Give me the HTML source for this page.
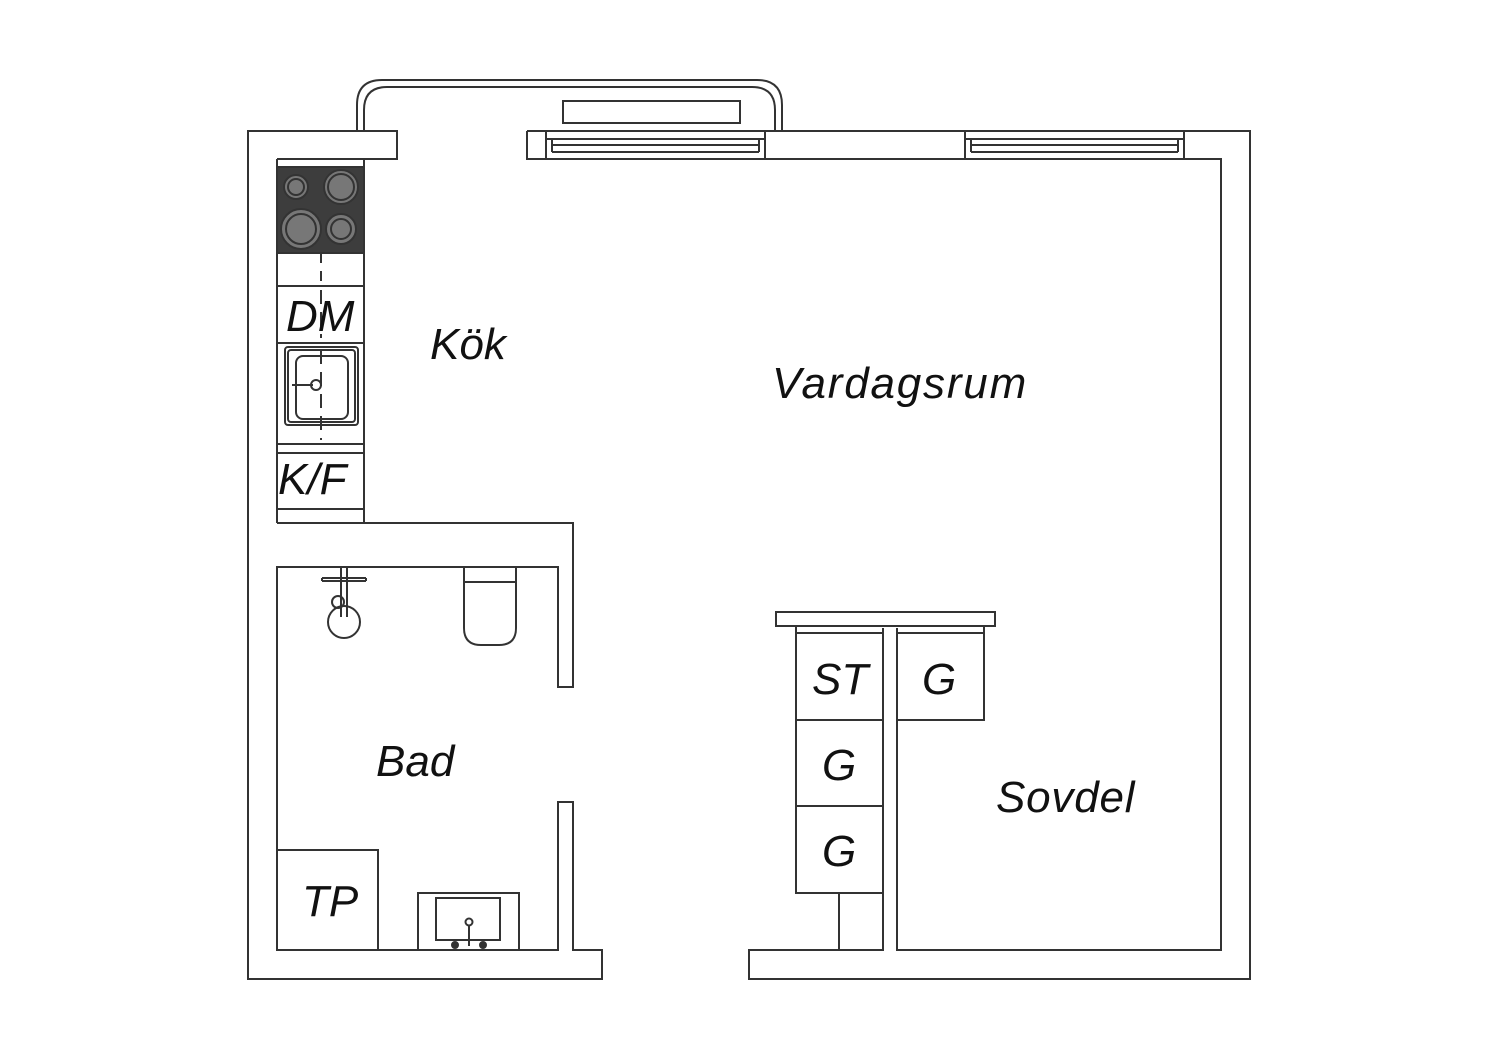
<!DOCTYPE html>
<html><head><meta charset="utf-8"><style>
html,body{margin:0;padding:0;background:#fff}
svg{display:block}
text{font-family:"Liberation Sans",sans-serif;font-style:italic;fill:#111}
</style></head><body>
<svg width="1500" height="1060" viewBox="0 0 1500 1060" xmlns="http://www.w3.org/2000/svg">
<g fill="none" stroke="#333" stroke-width="2">
<!-- balcony -->
<path d="M357 131 V105 Q357 80 382 80 H757 Q782 80 782 105 V131"/>
<path d="M364 131 V110 Q364 87 387 87 H752 Q775 87 775 110 V131"/>
<rect x="563" y="101" width="177" height="22"/>
<!-- outer walls -->
<path d="M397 131 H248 V979 H602 V950 H573 V802 H558 V950 H277 V567 H558 V687 H573 V523 H364 V159 H397 Z" fill="#fff"/>
<path d="M527 131 H1250 V979 H749 V950 H883 V628"/>
<path d="M897 628 V950 H1221 V159 H527 V131"/>
<!-- windows -->
<rect x="546" y="131" width="219" height="28"/>
<path d="M546 139 H765 M552 145 H759 M552 152 H759 M552 139 V152 M759 139 V152"/>
<rect x="965" y="131" width="219" height="28"/>
<path d="M965 139 H1184 M971 145 H1178 M971 152 H1178 M971 139 V152 M1178 139 V152"/>
<!-- kitchen counter -->
<path d="M277 159 V523 M277 159 H364"/>
<path d="M277 167 H364 M277 286 H364 M277 343 H364 M277 444 H364 M277 453 H364 M277 509 H364 M277 523 H364"/>
<rect x="277" y="167" width="87" height="86" fill="#3d3d3d"/>
<path d="M321 253 V286" stroke-dasharray="10 8"/>
<path d="M321 290 V338 M321 350 V440" stroke-dasharray="14 8"/>
<circle cx="296" cy="187" r="12" fill="#777"/><circle cx="296" cy="187" r="8"/>
<circle cx="341" cy="187" r="17" fill="#777"/><circle cx="341" cy="187" r="13"/>
<circle cx="301" cy="229" r="20" fill="#777"/><circle cx="301" cy="229" r="15"/>
<circle cx="341" cy="229" r="15" fill="#777"/><circle cx="341" cy="229" r="10"/>
<rect x="285" y="347" width="73" height="78" rx="3"/>
<rect x="288" y="350" width="67" height="72" rx="3"/>
<rect x="296" y="356" width="52" height="63" rx="7"/>
<circle cx="316" cy="385" r="5"/>
<path d="M292 385 H313"/>
<!-- shower -->
<path d="M322 578 H366 M322 581 H366 M322 578 V581 M366 578 V581"/>
<path d="M341 568 V617 M347 568 V617"/>
<circle cx="344" cy="622" r="16"/>
<circle cx="338" cy="602" r="6"/>
<!-- toilet -->
<path d="M464 567 V628 Q464 645 481 645 H499 Q516 645 516 628 V567 M464 582 H516"/>
<!-- TP -->
<rect x="277" y="850" width="101" height="100"/>
<!-- bath sink -->
<rect x="418" y="893" width="101" height="57"/>
<rect x="436" y="898" width="64" height="42"/>
<circle cx="469" cy="922" r="3.5"/>
<path d="M469 926 V946"/>
<circle cx="455" cy="945" r="3" fill="#333"/><circle cx="483" cy="945" r="3" fill="#333"/>
<!-- closets -->
<rect x="776" y="612" width="219" height="14" fill="#fff"/>
<path d="M796 626 V893 H883 M796 633 H883 M796 720 H883 M796 806 H883 M839 893 V950"/>
<path d="M897 626 H984 V720 H897 M897 633 H984"/>
</g>
<g font-size="44">
<text x="430" y="359">Kök</text>
<text x="772" y="398" letter-spacing="1.8">Vardagsrum</text>
<text x="376" y="776">Bad</text>
<text x="996" y="812" letter-spacing="0.8">Sovdel</text>
<text x="302" y="916">TP</text>
<text x="286" y="331">DM</text>
<text x="278" y="494">K/F</text>
<text x="812" y="694">ST</text>
<text x="922" y="694">G</text>
<text x="822" y="780">G</text>
<text x="822" y="866">G</text>
</g>
</svg>
</body></html>
